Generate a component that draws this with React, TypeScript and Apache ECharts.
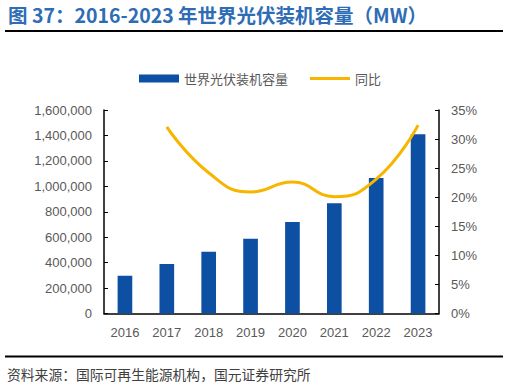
import React, { useEffect, useRef } from "react";
import * as echarts from "echarts";

const categories = ["2016", "2017", "2018", "2019", "2020", "2021", "2022", "2023"];
const capacity = [296000, 389000, 485000, 587000, 720000, 867000, 1065000, 1410000];
const growth = [null, 32.1, 24.2, 20.9, 22.6, 20.1, 23.1, 32.4];

const titleText = "图 37：2016-2023 年世界光伏装机容量（MW）";
const sourceText = "资料来源：国际可再生能源机构，国元证券研究所";
const barName = "世界光伏装机容量";
const lineName = "同比";

export default function App() {
  const ref = useRef<HTMLDivElement>(null);
  useEffect(() => {
    if (!ref.current) return;
    const chart = echarts.init(ref.current, null, { renderer: "svg" });
    const font = "'Noto Sans CJK SC', 'Liberation Sans', sans-serif";
    chart.setOption({
      animation: false,
      textStyle: { fontFamily: font },
      legend: {
        left: 134,
        top: 67,
        itemWidth: 40,
        itemHeight: 8,
        itemGap: 22,
        textStyle: { color: "#595959", fontSize: 13, fontFamily: font },
        data: [
          { name: barName, icon: "rect" },
          { name: lineName, icon: "path://M0,0 L40,0 L40,3 L0,3 Z" },
        ],
      },
      grid: { left: 104, right: 70, top: 110, bottom: 72.5 },
      xAxis: {
        type: "category",
        data: categories,
        axisLine: { lineStyle: { color: "#000", width: 1.5 } },
        axisTick: { inside: true, length: 4, lineStyle: { color: "#000" } },
        axisLabel: { color: "#595959", fontSize: 13, margin: 12, fontFamily: "'Liberation Sans', Arial, sans-serif" },
      },
      yAxis: [
        {
          type: "value",
          min: 0,
          max: 1600000,
          interval: 200000,
          splitLine: { show: false },
          axisLine: { show: true, lineStyle: { color: "#000", width: 1.5 } },
          axisTick: { show: true, inside: true, length: 4, lineStyle: { color: "#000" } },
          axisLabel: {
            color: "#595959",
            fontSize: 13,
            margin: 12,
            fontFamily: "'Liberation Sans', Arial, sans-serif",
            formatter: (v: number) => v.toLocaleString("en-US"),
          },
        },
        {
          type: "value",
          min: 0,
          max: 35,
          interval: 5,
          splitLine: { show: false },
          axisLine: { show: true, lineStyle: { color: "#000", width: 1.5 } },
          axisTick: { show: true, inside: true, length: 4, lineStyle: { color: "#000" } },
          axisLabel: {
            color: "#595959",
            fontSize: 13,
            margin: 12,
            fontFamily: "'Liberation Sans', Arial, sans-serif",
            formatter: "{value}%",
          },
        },
      ],
      series: [
        {
          name: barName,
          type: "bar",
          data: capacity,
          barWidth: "35%",
          itemStyle: { color: "#0d4fa3" },
        },
        {
          name: lineName,
          type: "line",
          yAxisIndex: 1,
          data: growth,
          smooth: 0.5,
          symbol: "none",
          lineStyle: { color: "#f7b500", width: 3 },
          itemStyle: { color: "#f7b500" },
        },
      ],
      graphic: [
        {
          type: "text",
          left: 8,
          top: 5,
          style: {
            text: titleText,
            fill: "#2e6db5",
            font: `bold 19.5px ${font}`,
          },
        },
        {
          type: "line",
          shape: { x1: 5, y1: 31, x2: 503, y2: 31 },
          style: { stroke: "#000", lineWidth: 2 },
        },
        {
          type: "line",
          shape: { x1: 5, y1: 356.5, x2: 503, y2: 356.5 },
          style: { stroke: "#000", lineWidth: 2 },
        },
        {
          type: "text",
          left: 7,
          top: 367,
          style: {
            text: sourceText,
            fill: "#404040",
            font: `13.8px ${font}`,
          },
        },
      ],
    });
    return () => chart.dispose();
  }, []);
  return (
    <div
      ref={ref}
      style={{ position: "fixed", left: 0, top: 0, width: 509, height: 386, background: "#fff" }}
    />
  );
}
